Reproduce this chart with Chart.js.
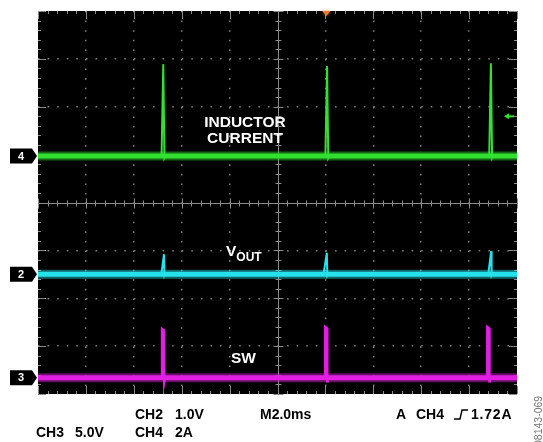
<!DOCTYPE html>
<html>
<head>
<meta charset="utf-8">
<script src="https://cdn.jsdelivr.net/npm/chart.js@4.4.0/dist/chart.umd.min.js"></script>
<style>
  body { margin: 0; background: #fff; }
  #wrap { position: relative; width: 543px; height: 442px; overflow: hidden;
          font-family: "Liberation Sans", Arial, sans-serif; font-weight: bold; }
  canvas { position: absolute; left: 0; top: 0; }
  .lbl { position: absolute; color: #fff; font-size: 15.5px; line-height: 1; white-space: nowrap; }
  .ft { position: absolute; color: #000; font-size: 14px; line-height: 1; white-space: nowrap; }
  .fig { position: absolute; left: 533px; top: 446px; color: #777; font-weight: normal; font-size: 10.5px;
         line-height: 1; transform-origin: left top; transform: rotate(-90deg); white-space: nowrap; }
</style>
</head>
<body>
<div id="wrap">
  <canvas id="scope" width="543" height="442"></canvas>

  <div class="lbl" style="left:245px;top:114px;transform:translateX(-50%);text-align:center;line-height:15.5px;">INDUCTOR<br>CURRENT</div>
  <div class="lbl" style="left:226px;top:243px;">V<span style="font-size:12px;position:relative;top:5px;">OUT</span></div>
  <div class="lbl" style="left:231px;top:350px;">SW</div>

  <div class="ft" style="left:135px;top:407px;">CH2</div>
  <div class="ft" style="left:175px;top:407px;">1.0V</div>
  <div class="ft" style="left:260px;top:407px;">M2.0ms</div>
  <div class="ft" style="left:396px;top:407px;">A</div>
  <div class="ft" style="left:416px;top:407px;">CH4</div>
  <svg style="position:absolute;left:454px;top:409px;" width="15" height="11">
    <polyline points="0,10 6,10 8,1 14,1" fill="none" stroke="#000" stroke-width="1.4"/>
  </svg>
  <div class="ft" style="left:471px;top:407px;letter-spacing:0.8px;">1.72A</div>

  <div class="ft" style="left:36px;top:425px;">CH3</div>
  <div class="ft" style="left:75px;top:425px;">5.0V</div>
  <div class="ft" style="left:135px;top:425px;">CH4</div>
  <div class="ft" style="left:175px;top:425px;">2A</div>

  <div class="fig">08143-069</div>
</div>

<script>
// screen is 10 x 8 divisions, 5 minor ticks per division
const timeDivs = 10;
const levelDivs = 8;
const minorPerDiv = 5;

// channel ground markers (divisions from the bottom)
const channelNames = ['4', '2', '3'];
const channelLevels = [4.97, 2.5, 0.34];

// trigger: position in time (div) and level of CH4 (div)
const triggerTime = 6.02;
const triggerLevel = 5.8;

// CH4, inductor current: [time div, level div]
const ch4Trace = [
  [0, 4.97], [2.58, 4.97], [2.615, 6.89], [2.64, 4.93], [2.66, 4.97],
  [6.0, 4.97], [6.035, 6.85], [6.06, 4.93], [6.08, 4.97],
  [9.42, 4.97], [9.455, 6.91], [9.48, 4.93], [9.5, 4.97], [10, 4.97]
];

// CH2, Vout
const ch2Trace = [
  [0, 2.5], [2.575, 2.5], [2.63, 2.92], [2.64, 2.47], [2.66, 2.5],
  [5.96, 2.5], [6.03, 2.95], [6.04, 2.47], [6.06, 2.5],
  [9.4, 2.5], [9.46, 2.985], [9.47, 2.47], [9.49, 2.5], [10, 2.5]
];

// CH3, switch node
const ch3Trace = [
  [0, 0.34], [2.59, 0.34], [2.59, 1.36], [2.63, 1.33], [2.635, 0.24], [2.655, 0.34],
  [5.995, 0.34], [5.995, 1.4], [6.035, 1.37], [6.04, 0.24], [6.06, 0.34],
  [9.38, 0.34], [9.38, 1.4], [9.42, 1.37], [9.425, 0.24], [9.445, 0.34], [10, 0.34]
];

const ch4Color = 'rgb(50, 224, 50)';
const ch2Color = 'rgb(38, 226, 234)';
const ch3Color = 'rgb(226, 30, 226)';

const toXY = pts => pts.map(([t, v]) => ({ x: t, y: v }));

const trace = (pts, color, width, order) => ({
  data: toXY(pts),
  borderColor: color,
  borderWidth: width,
  pointRadius: 0,
  tension: 0,
  order: order
});

const band = (level, color, width, order) => trace([[0, level], [timeDivs, level]], color, width, order);

const scopePlugin = {
  id: 'scope',
  beforeDraw(chart) {
    const { ctx, chartArea: a } = chart;
    ctx.save();
    ctx.fillStyle = '#000';
    ctx.fillRect(a.left, a.top, a.right - a.left, a.bottom - a.top);
    ctx.restore();
  },
  beforeDatasetsDraw(chart) {
    const { ctx, chartArea: a, scales: { x, y } } = chart;
    const cx = Math.round(x.getPixelForValue(timeDivs / 2)) + 0.5;
    const cy = Math.round(y.getPixelForValue(levelDivs / 2)) + 0.5;
    ctx.save();
    ctx.strokeStyle = '#8a8a8a';
    ctx.lineWidth = 1;
    ctx.beginPath();
    ctx.moveTo(a.left, cy); ctx.lineTo(a.right, cy);
    ctx.moveTo(cx, a.top); ctx.lineTo(cx, a.bottom);
    for (let i = 0; i <= timeDivs * minorPerDiv; i++) {
      const px = Math.round(x.getPixelForValue(i / minorPerDiv)) + 0.5;
      const major = i % minorPerDiv === 0;
      const c = major ? 5 : 3;
      const e = major ? 8 : 3;
      ctx.moveTo(px, cy - c); ctx.lineTo(px, cy + c);
      ctx.moveTo(px, a.top); ctx.lineTo(px, a.top + e);
      ctx.moveTo(px, a.bottom); ctx.lineTo(px, a.bottom - e);
    }
    for (let i = 0; i <= levelDivs * minorPerDiv; i++) {
      const py = Math.round(y.getPixelForValue(i / minorPerDiv)) + 0.5;
      const major = i % minorPerDiv === 0;
      const c = major ? 5 : 3;
      const e = major ? 8 : 3;
      ctx.moveTo(cx - c, py); ctx.lineTo(cx + c, py);
      ctx.moveTo(a.left, py); ctx.lineTo(a.left + e, py);
      ctx.moveTo(a.right, py); ctx.lineTo(a.right - e, py);
    }
    ctx.stroke();
    ctx.restore();
  },
  afterDraw(chart) {
    const { ctx, chartArea: a, scales: { x, y } } = chart;
    ctx.save();
    // channel ground markers
    channelNames.forEach((name, i) => {
      const py = y.getPixelForValue(channelLevels[i]);
      ctx.fillStyle = '#000';
      ctx.beginPath();
      ctx.moveTo(a.left - 28, py - 7.5);
      ctx.lineTo(a.left - 6, py - 7.5);
      ctx.lineTo(a.left - 1, py);
      ctx.lineTo(a.left - 6, py + 7.5);
      ctx.lineTo(a.left - 28, py + 7.5);
      ctx.closePath();
      ctx.fill();
      ctx.fillStyle = '#fff';
      ctx.font = 'bold 11px "Liberation Sans", Arial, sans-serif';
      ctx.textAlign = 'center';
      ctx.textBaseline = 'middle';
      ctx.fillText(name, a.left - 17, py + 0.5);
    });
    // trigger position (top) and level (right)
    const tx = x.getPixelForValue(triggerTime);
    ctx.fillStyle = '#ea7a2c';
    ctx.shadowColor = '#ea7a2c';
    ctx.shadowBlur = 3;
    ctx.beginPath();
    ctx.moveTo(tx - 4, a.top);
    ctx.lineTo(tx + 4, a.top);
    ctx.lineTo(tx, a.top + 5);
    ctx.closePath();
    ctx.fill();
    ctx.shadowBlur = 0;
    const ty = y.getPixelForValue(triggerLevel);
    ctx.fillStyle = ch4Color;
    ctx.fillRect(a.right - 9, ty - 1, 6, 2);
    ctx.beginPath();
    ctx.moveTo(a.right - 13, ty);
    ctx.lineTo(a.right - 8, ty - 3);
    ctx.lineTo(a.right - 8, ty + 3);
    ctx.closePath();
    ctx.fill();
    ctx.restore();
  }
};

new Chart(document.getElementById('scope'), {
  type: 'line',
  data: {
    datasets: [
      trace(ch4Trace, ch4Color, 2, 0),
      trace(ch2Trace, ch2Color, 2, 0),
      trace(ch3Trace, ch3Color, 2.5, 0),
      band(channelLevels[0], ch4Color, 5, 1),
      band(channelLevels[1], ch2Color, 5, 1),
      band(channelLevels[2], ch3Color, 5, 1),
      band(channelLevels[0], 'rgba(50, 224, 50, 0.45)', 9, 2),
      band(channelLevels[1], 'rgba(38, 226, 234, 0.45)', 9, 2),
      band(channelLevels[2], 'rgba(226, 30, 226, 0.45)', 9, 2)
    ]
  },
  options: {
    responsive: false,
    animation: false,
    events: [],
    layout: { padding: { left: 38, top: 11, right: 26, bottom: 48 } },
    plugins: { legend: { display: false }, tooltip: { enabled: false } },
    scales: {
      x: {
        type: 'linear', min: 0, max: timeDivs,
        ticks: { stepSize: 1, display: false },
        grid: {
          drawTicks: false,
          lineWidth: 1.5,
          color: c => (c.tick.value % timeDivs === 0 || c.tick.value === timeDivs / 2) ? 'rgba(0,0,0,0)' : '#7c7c7c'
        },
        border: { display: false, dash: [1.6, 7.98] }
      },
      y: {
        type: 'linear', min: 0, max: levelDivs,
        ticks: { stepSize: 1, display: false },
        grid: {
          drawTicks: false,
          lineWidth: 1.5,
          color: c => (c.tick.value % levelDivs === 0 || c.tick.value === levelDivs / 2) ? 'rgba(0,0,0,0)' : '#7c7c7c'
        },
        border: { display: false, dash: [1.6, 7.98] }
      }
    }
  },
  plugins: [scopePlugin]
});
</script>
</body>
</html>
